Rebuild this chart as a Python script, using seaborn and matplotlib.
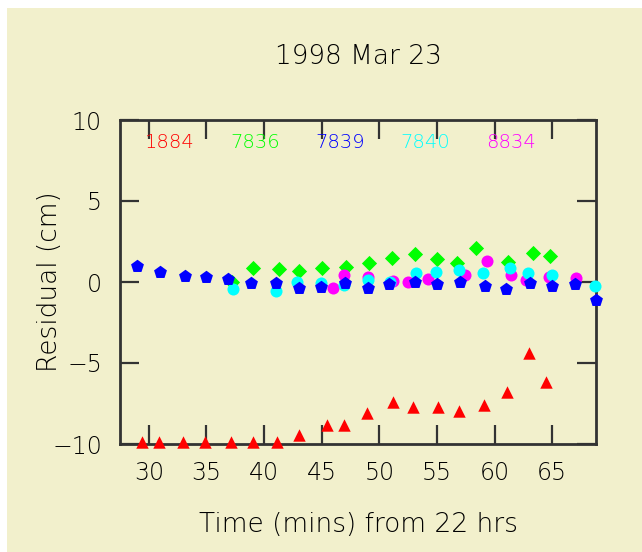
import matplotlib

matplotlib.use("Agg")
import matplotlib.pyplot as plt
import numpy as np
import pandas as pd
import seaborn as sns
from matplotlib.patches import Rectangle

# residuals per tide gauge
x_1884 = [29.4, 30.9, 33.0, 34.9, 37.1, 39.0, 41.1, 43.0, 45.5, 46.9,
          48.9, 51.2, 52.9, 55.1, 56.9, 59.1, 61.1, 63.0, 64.5]
y_1884 = [-9.9, -9.9, -9.9, -9.9, -9.9, -9.9, -9.9, -9.45, -8.8, -8.8,
          -8.1, -7.4, -7.7, -7.7, -7.95, -7.6, -6.8, -4.4, -6.2]

x_7836 = [37.2, 39.0, 41.3, 43.0, 45.0, 47.1, 49.1, 51.1, 53.1, 55.0,
          56.7, 58.4, 61.2, 63.3, 64.8]
y_7836 = [0.0, 0.86, 0.8, 0.68, 0.86, 0.92, 1.17, 1.48, 1.73, 1.42,
          1.17, 2.1, 1.23, 1.8, 1.6]

x_8834 = [46.0, 46.9, 49.0, 51.2, 52.5, 54.2, 57.4, 59.3, 61.4, 62.7,
          64.7, 67.1]
y_8834 = [-0.37, 0.43, 0.31, 0.06, 0.0, 0.18, 0.43, 1.3, 0.43, 0.12,
          0.31, 0.25]

x_7840 = [37.3, 41.0, 42.9, 44.9, 46.9, 49.0, 50.9, 53.2, 54.9, 56.9,
          59.0, 61.3, 62.9, 65.0, 68.7]
y_7840 = [-0.43, -0.55, 0.0, -0.06, -0.19, 0.12, 0.0, 0.55, 0.62, 0.74,
          0.55, 0.86, 0.55, 0.43, -0.25]

x_7839 = [29.0, 31.0, 33.1, 35.0, 36.9, 38.9, 41.0, 43.0, 44.9, 47.0,
          49.0, 50.8, 53.1, 55.0, 57.0, 59.2, 61.0, 63.1, 65.0, 67.0, 68.8]
y_7839 = [0.99, 0.62, 0.37, 0.31, 0.18, -0.06, -0.06, -0.37, -0.3, -0.06,
          -0.37, -0.1, 0.0, -0.12, 0.0, -0.25, -0.43, -0.06, -0.25, -0.12,
          -1.1]

stations = ["1884", "7836", "7839", "7840", "8834"]
colors = {"1884": "#ff0000", "7836": "#00ff00", "7839": "#0000ff",
          "7840": "#00ffff", "8834": "#ff00ff"}
markers = {"1884": "^", "7836": "D", "7839": "p", "7840": "o", "8834": "o"}
sizes = {"1884": 80, "7836": 60, "7839": 95, "7840": 75, "8834": 75}

series = {
    "1884": (x_1884, y_1884),
    "7836": (x_7836, y_7836),
    "8834": (x_8834, y_8834),
    "7840": (x_7840, y_7840),
    "7839": (x_7839, y_7839),
}

bg = "#f2f0cc"
ink = "#333333"
plt.rcParams["font.family"] = ["DejaVu Sans"]
plt.rcParams["font.weight"] = "light"
plt.rcParams["axes.titleweight"] = "light"
plt.rcParams["axes.labelweight"] = "light"

fig = plt.figure(figsize=(6.42, 5.52), dpi=100, facecolor="white")
fig.patches.append(Rectangle((7 / 642, 0), 1, 544 / 552, transform=fig.transFigure,
                             facecolor=bg, edgecolor="none", zorder=-5))
ax = fig.add_axes([120 / 642, 108 / 552, 476 / 642, 324 / 552])
ax.set_facecolor(bg)

for name, (xs, ys) in series.items():
    df = pd.DataFrame({"time": xs, "resid": ys})
    sns.scatterplot(data=df, x="time", y="resid", ax=ax, color=colors[name],
                    marker=markers[name], s=sizes[name], linewidth=0,
                    clip_on=False, zorder=3)

# station labels across the top
for i, name in enumerate(stations):
    ax.text(31.8 + 7.4 * i, 8.6, name, color=colors[name], fontsize=14,
            ha="center", va="center")

ax.set_xlim(27.5, 68.8)
ax.set_ylim(-10, 10)
ax.set_xticks(np.arange(30, 66, 5))
ax.set_yticks([-10, -5, 0, 5, 10])

for sp in ax.spines.values():
    sp.set_linewidth(2)
    sp.set_color(ink)
ax.tick_params(direction="in", length=14, width=1.6, color=ink,
               top=True, right=True, labelsize=17, labelcolor="black")
ax.tick_params(axis="x", pad=12)
ax.tick_params(axis="y", pad=13)

ax.set_title("1998 Mar 23", fontsize=19, pad=40)
ax.set_xlabel("Time (mins) from 22 hrs", fontsize=19, labelpad=20)
ax.set_ylabel("Residual (cm)", fontsize=19)
ax.yaxis.set_label_coords(-0.122, 0.5)

fig.savefig("out.png", dpi=100, facecolor=fig.get_facecolor())
